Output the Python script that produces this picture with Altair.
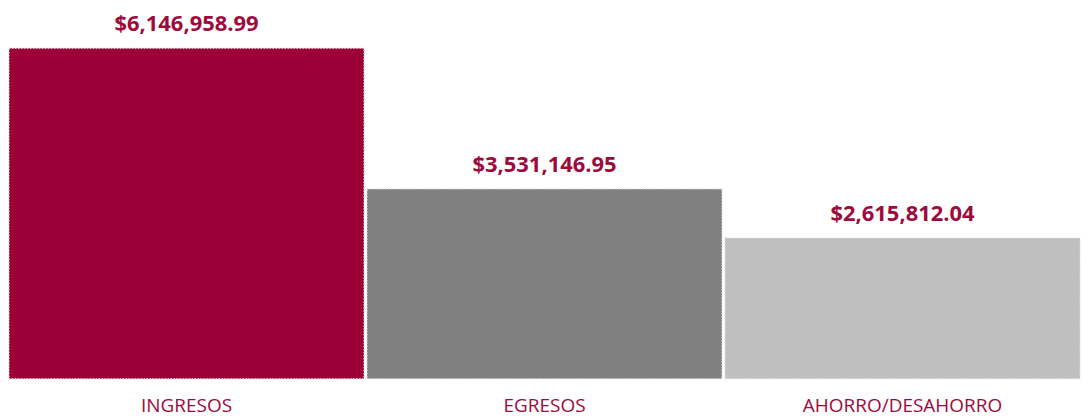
import altair as alt
import pandas as pd

categories = ["INGRESOS", "EGRESOS", "AHORRO/DESAHORRO"]
values = [6146958.99, 3531146.95, 2615812.04]
labels = ["$6,146,958.99", "$3,531,146.95", "$2,615,812.04"]
colors = ["#9b0036", "#808080", "#bfbfbf"]

df = pd.DataFrame({"cat": categories, "val": values, "lab": labels, "col": colors})

FONT = "Open Sans"
TXT = "#9e0a3c"

x = alt.X("cat:N", sort=categories, title=None,
          scale=alt.Scale(paddingInner=0.0084, paddingOuter=0),
          axis=alt.Axis(labelAngle=0, domain=False, ticks=False, labelPadding=18, labelLimit=0,
                        labelFont=FONT, labelFontSize=19, labelColor=TXT, labelFontWeight="normal"))
y = alt.Y("val:Q", title=None, scale=alt.Scale(domain=[0, 6890000], nice=False, zero=True),
          axis=None)

bars = alt.Chart(df).mark_bar(stroke="#dcdcdc", strokeWidth=1.5, strokeDash=[1.5, 1.5],
                              strokeOpacity=0.8).encode(
    x=x, y=y, color=alt.Color("col:N", scale=None))

text = alt.Chart(df).mark_text(font=FONT, fontSize=22, fontWeight="bold", color=TXT,
                               baseline="bottom", dy=-12).encode(
    x=alt.X("cat:N", sort=categories), y="val:Q", text="lab:N")

chart = alt.layer(bars, text).properties(
    width=1073, height=371, padding=0, background="white"
).configure_view(stroke=None)

chart.save("out.html", embed_options={"renderer": "svg", "actions": False})
